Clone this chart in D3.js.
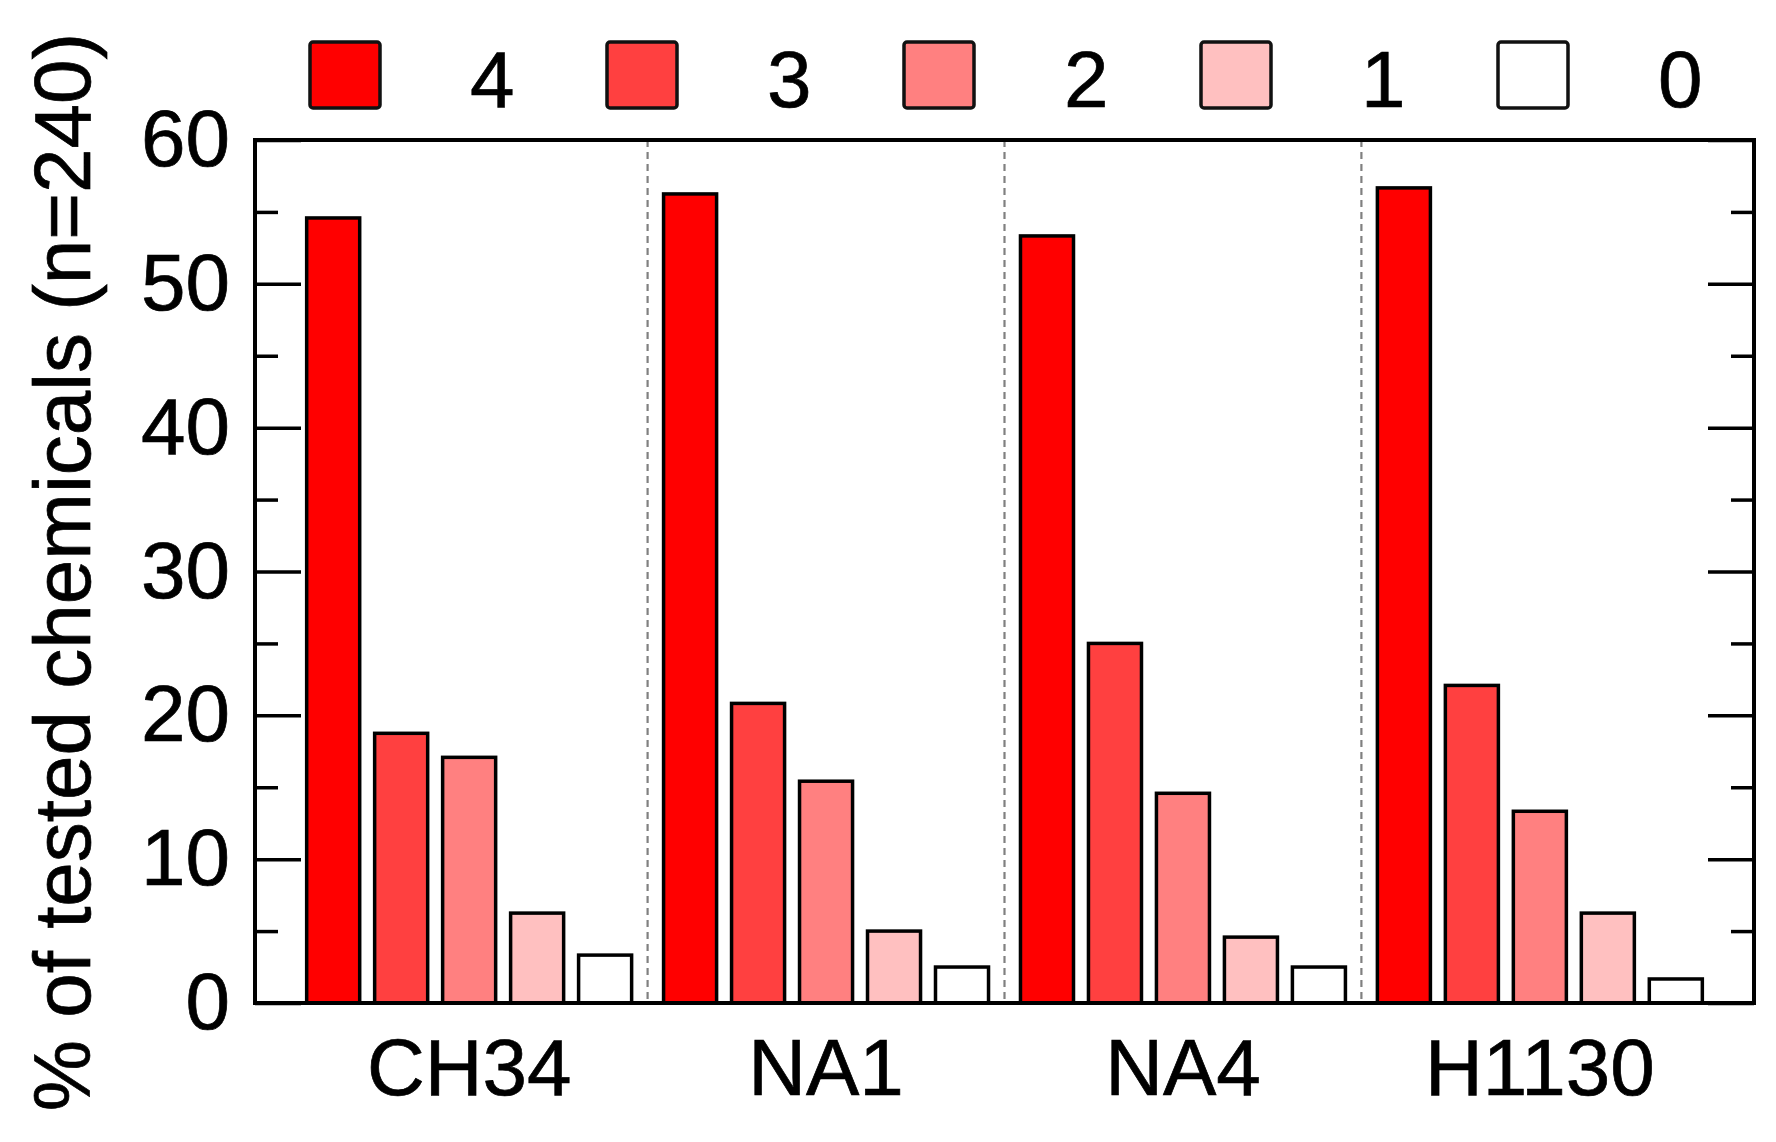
<!DOCTYPE html>
<html>
<head>
<meta charset="utf-8">
<script src="https://cdn.jsdelivr.net/npm/d3@7"></script>
<style>
  body { margin: 0; background: #fff; }
  text { font-family: "Liberation Sans", Arial, sans-serif; fill: #000; stroke: #000; stroke-width: 0.7px; }
</style>
</head>
<body>
<div class="canvas"></div>
<script>
var pageWidth = 1776,
    pageHeight = 1142;
var margins = {t:140, r:22, b:139, l:255};
var plotWidth = pageWidth - margins.l - margins.r,
    plotHeight = pageHeight - margins.t - margins.b;

// data: % of the 240 tested chemicals per strain and score
var strains = ['CH34', 'NA1', 'NA4', 'H1130'];
var scores = ['4', '3', '2', '1', '0'];
var score4 = [54.58, 56.25, 53.33, 56.67];
var score3 = [18.75, 20.83, 25.00, 22.08];
var score2 = [17.08, 15.42, 14.58, 13.33];
var score1 = [6.25, 5.00, 4.58, 6.25];
var score0 = [3.33, 2.50, 2.50, 1.67];
var majorTicks = [0, 10, 20, 30, 40, 50, 60];
var minorTicks = [5, 15, 25, 35, 45, 55];
var scoreColors = ['#ff0000', '#ff4040', '#ff8080', '#ffc0c0', '#ffffff'];

var seriesValues = [score4, score3, score2, score1, score0];

var svg = d3.select('.canvas')
    .append('svg')
    .attr('width', pageWidth)
    .attr('height', pageHeight);

var plot = svg.append('g')
    .attr('transform', 'translate(' + margins.l + ',' + margins.t + ')');

var x0 = d3.scaleBand()
    .domain(strains)
    .range([0, plotWidth])
    .paddingInner(0)
    .paddingOuter(0.1);

var x1 = d3.scaleBand()
    .domain(scores)
    .range([0, x0.bandwidth()])
    .paddingInner(0.22)
    .paddingOuter(0.235);

var y = d3.scaleLinear()
    .domain([0, 60])
    .range([plotHeight, 0]);

var color = d3.scaleOrdinal()
    .domain(scores)
    .range(scoreColors);

// dashed separators between strains
plot.selectAll('.sep')
    .data(strains.slice(1))
    .enter()
    .append('line')
    .attr('class', 'sep')
    .attr('x1', function(d){ return x0(d); })
    .attr('x2', function(d){ return x0(d); })
    .attr('y1', 0)
    .attr('y2', plotHeight)
    .style('stroke', '#808080')
    .style('stroke-width', 2.2)
    .style('stroke-dasharray', '7,5');

// bars
var groups = plot.selectAll('.strain')
    .data(strains)
    .enter()
    .append('g')
    .attr('class', 'strain')
    .attr('transform', function(d){ return 'translate(' + x0(d) + ',0)'; });

groups.selectAll('rect')
    .data(function(d, i){
        return scores.map(function(s, j){ return {score: s, value: seriesValues[j][i]}; });
    })
    .enter()
    .append('rect')
    .attr('x', function(d){ return x1(d.score); })
    .attr('y', function(d){ return y(d.value); })
    .attr('width', x1.bandwidth())
    .attr('height', function(d){ return plotHeight - y(d.value); })
    .style('fill', function(d){ return color(d.score); })
    .style('stroke', '#000')
    .style('stroke-width', 3.5);

// y axis ticks (inward) on both sides
var leftMajor = plot.append('g')
    .call(d3.axisLeft(y).tickValues(majorTicks).tickSize(-46).tickPadding(25).tickFormat(d3.format('d')));
var leftMinor = plot.append('g')
    .call(d3.axisLeft(y).tickValues(minorTicks).tickSize(-23).tickFormat(''));
var rightMajor = plot.append('g')
    .attr('transform', 'translate(' + plotWidth + ',0)')
    .call(d3.axisRight(y).tickValues(majorTicks).tickSize(-46).tickFormat(''));
var rightMinor = plot.append('g')
    .attr('transform', 'translate(' + plotWidth + ',0)')
    .call(d3.axisRight(y).tickValues(minorTicks).tickSize(-23).tickFormat(''));

[leftMajor, leftMinor, rightMajor, rightMinor].forEach(function(a){
    a.select('.domain').remove();
    a.selectAll('line').style('stroke', '#000').style('stroke-width', 3.5);
    a.selectAll('text').style('font-size', '80px').style('fill', '#000');
});

// x axis labels
var xAxis = plot.append('g')
    .attr('transform', 'translate(0,' + plotHeight + ')')
    .call(d3.axisBottom(x0).tickSize(0).tickPadding(35));
xAxis.select('.domain').remove();
xAxis.selectAll('text').style('font-size', '80px').style('fill', '#000');

// frame
plot.append('rect')
    .attr('width', plotWidth)
    .attr('height', plotHeight)
    .style('fill', 'none')
    .style('stroke', '#000')
    .style('stroke-width', 4);

// y title
svg.append('text')
    .attr('transform', 'translate(90,572) rotate(-90)')
    .attr('text-anchor', 'middle')
    .style('font-size', '80px')
    .text('% of tested chemicals (n=240)');

// legend
var legend = svg.selectAll('.legend-item')
    .data(scores)
    .enter()
    .append('g')
    .attr('class', 'legend-item')
    .attr('transform', function(d, i){ return 'translate(' + (310 + i * 297) + ',42)'; });

legend.append('rect')
    .attr('width', 70)
    .attr('height', 66)
    .attr('rx', 3)
    .style('fill', function(d){ return color(d); })
    .style('stroke', '#111')
    .style('stroke-width', 3.5);

legend.append('text')
    .attr('x', 160)
    .attr('y', 65)
    .style('font-size', '80px')
    .text(function(d){ return d; });
</script>
</body>
</html>
